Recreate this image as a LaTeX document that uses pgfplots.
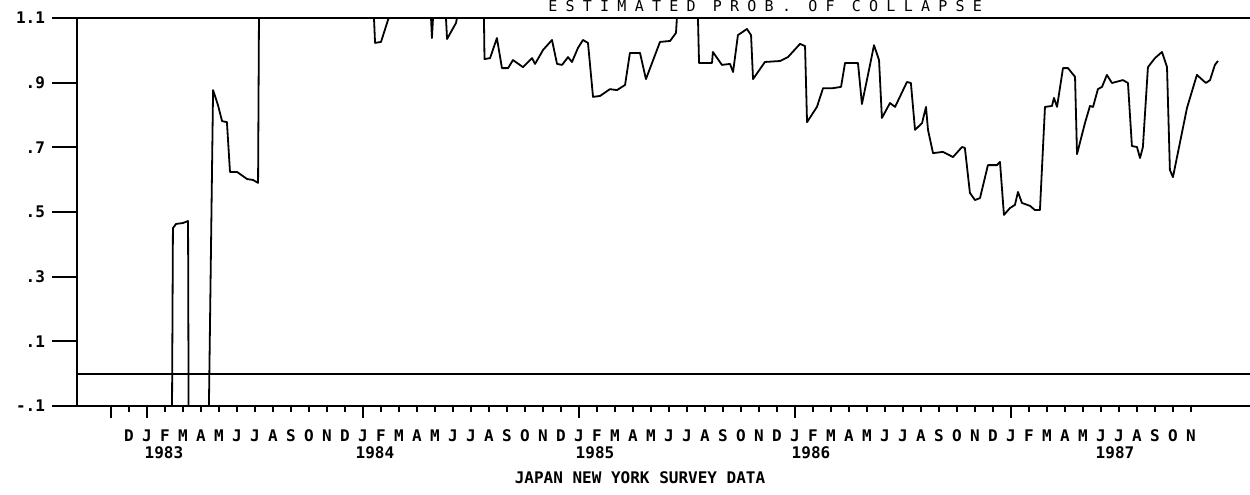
\documentclass[border=0pt]{standalone}
\usepackage{fontspec}
\setmainfont{DejaVu Sans Mono}
\newfontfamily\titlefont[LetterSpace=55]{DejaVu Sans Mono}
\usepackage{pgfplots}
\pgfplotsset{compat=1.18}

\begin{document}
\begin{tikzpicture}
\useasboundingbox (-38.5pt,-44pt) rectangle (586.5pt,203pt);
\begin{axis}[
  scale only axis, width=586.5pt, height=194pt,
  xmin=-3.89, xmax=61.28, ymin=-0.1, ymax=1.1,
  clip=false,
  axis x line*=bottom, axis y line*=left,
  axis line style={-, line width=1.1pt},
  tick align=outside,
  every tick/.style={black, line width=1pt},
  major tick length=3pt,
  % months: Dec 1982 = -1, Jan 1983 = 0, ..., Nov 1987 = 58
  xtick={-1,...,58},
  xticklabels={D,
    J,F,M,A,M,J,J,A,S,O,N,D,
    J,F,M,A,M,J,J,A,S,O,N,D,
    J,F,M,A,M,J,J,A,S,O,N,D,
    J,F,M,A,M,J,J,A,S,O,N,D,
    J,F,M,A,M,J,J,A,S,O,N},
  xticklabel style={anchor=center, yshift=-12pt, font=\fontsize{8}{8}\selectfont\bfseries},
  extra x ticks={-2,0,12,24,36,48},
  extra x tick labels={},
  extra x tick style={major tick length=6pt},
  ytick=\empty,
  extra y ticks={-0.1,0.1,0.3,0.5,0.7,0.9,1.1},
  extra y tick labels={-.1,.1,.3,.5,.7,.9,1.1},
  extra y tick style={major tick length=12.5pt,
    yticklabel style={font=\fontsize{8}{8}\selectfont\bfseries}},
]
% reference lines at zero and at the top of the scale
\addplot[black, line width=1.1pt] coordinates {(-3.89,0) (61.28,0)};
\addplot[black, line width=1.1pt] coordinates {(-3.89,1.1) (61.28,1.1)};

% probability of collapse (clipped to the plotting range)
\addplot[black, line width=0.9pt, line join=round] coordinates {
(1.39,-0.10) (1.44,0.450) (1.61,0.463) (2.00,0.466) (2.28,0.472)
(2.31,-0.10) (3.44,-0.10) (3.67,0.877) (3.94,0.831) (4.17,0.781)
(4.44,0.778) (4.61,0.624) (5.00,0.624) (5.56,0.602) (5.89,0.599)
(6.17,0.590) (6.22,1.10) (12.61,1.10) (12.67,1.023) (13.00,1.026)
(13.39,1.094) (13.44,1.10) (15.78,1.10) (15.83,1.038) (15.89,1.10)
(16.61,1.10) (16.67,1.035) (17.17,1.085) (17.22,1.10) (18.72,1.10)
(18.75,0.973) (19.06,0.976) (19.44,1.038) (19.72,0.945) (20.06,0.945)
(20.33,0.970) (20.89,0.948) (21.39,0.976) (21.56,0.958) (22.00,1.001)
(22.50,1.032) (22.78,0.958) (23.06,0.955) (23.39,0.979) (23.61,0.964)
(23.94,1.007) (24.22,1.032) (24.50,1.023) (24.78,0.856) (25.17,0.859)
(25.72,0.880) (26.11,0.877) (26.56,0.893) (26.83,0.992) (27.39,0.992)
(27.72,0.911) (28.50,1.026) (29.06,1.029) (29.39,1.054) (29.44,1.10)
(30.61,1.10) (30.67,0.961) (31.39,0.961) (31.44,0.995) (31.94,0.955)
(32.39,0.958) (32.56,0.933) (32.83,1.047) (33.33,1.066) (33.56,1.047)
(33.67,0.911) (34.33,0.964) (35.17,0.967) (35.61,0.979) (36.28,1.020)
(36.56,1.013) (36.67,0.778) (37.22,0.825) (37.56,0.883) (38.11,0.883)
(38.56,0.887) (38.78,0.961) (39.50,0.961) (39.72,0.834) (40.17,0.955)
(40.39,1.016) (40.67,0.970) (40.83,0.791) (41.28,0.837) (41.56,0.825)
(42.22,0.902) (42.44,0.899) (42.67,0.754) (43.06,0.775) (43.28,0.825)
(43.39,0.754) (43.67,0.682) (44.22,0.686) (44.78,0.670) (45.28,0.701)
(45.44,0.698) (45.72,0.559) (46.00,0.537) (46.28,0.543) (46.72,0.645)
(47.22,0.645) (47.39,0.655) (47.61,0.491) (47.94,0.512) (48.22,0.522)
(48.39,0.562) (48.61,0.528) (49.06,0.519) (49.33,0.506) (49.61,0.506)
(49.89,0.825) (50.28,0.828) (50.39,0.853) (50.56,0.825) (50.89,0.945)
(51.17,0.945) (51.56,0.918) (51.67,0.679) (52.11,0.775) (52.39,0.828)
(52.56,0.825) (52.83,0.880) (53.06,0.887) (53.33,0.924) (53.61,0.899)
(54.22,0.908) (54.50,0.899) (54.72,0.704) (55.00,0.701) (55.17,0.667)
(55.33,0.701) (55.61,0.948) (56.00,0.976) (56.39,0.995) (56.67,0.948)
(56.83,0.630) (57.00,0.608) (57.78,0.822) (58.33,0.924) (58.83,0.899)
(59.06,0.908) (59.33,0.955) (59.50,0.967)
};
\end{axis}
% year labels and axis caption
\begin{scope}[every node/.style={font=\fontsize{8}{8}\selectfont\bfseries, anchor=center}]
\node at (43.5pt,-23.5pt) {1983};
\node at (149pt,-23.5pt) {1984};
\node at (259pt,-23.5pt) {1985};
\node at (367pt,-23.5pt) {1986};
\node at (519pt,-23.5pt) {1987};
\node at (281.5pt,-36pt) {JAPAN NEW YORK SURVEY DATA};
\end{scope}
% chart title
\node[anchor=base east, font=\titlefont\fontsize{7.5}{8}\selectfont] at (456pt,197.2pt) {ESTIMATED PROB. OF COLLAPSE};
\end{tikzpicture}
\end{document}
